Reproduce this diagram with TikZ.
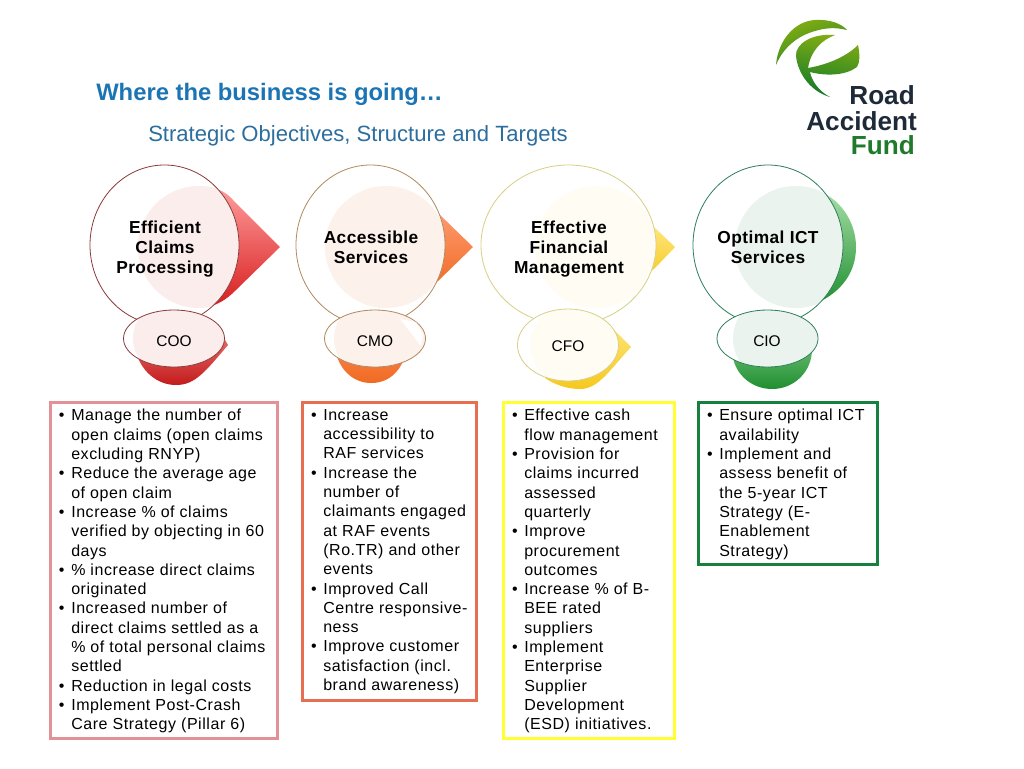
\documentclass[tikz,border=0pt]{standalone}
\usepackage{fontspec}
\setmainfont{Liberation Sans}
\newfontfamily\listfont[LetterSpace=3.5]{Liberation Sans}
\newfontfamily\headfont[LetterSpace=2.5]{Liberation Sans}
\usetikzlibrary{shapes.geometric}
\definecolor{titleblue}{HTML}{1B75B5}
\definecolor{subblue}{HTML}{2C6E9E}
\definecolor{logodark}{HTML}{1E2A38}
\definecolor{logogreen}{HTML}{1F7A2C}
\definecolor{logohi}{HTML}{86AE12}
\definecolor{logolo}{HTML}{0F7A2A}
\definecolor{edgeA}{HTML}{8B3A3A}\definecolor{paleA}{HTML}{FBEDEB}\definecolor{hiA}{HTML}{FF9C9C}\definecolor{loA}{HTML}{D81E1E}\definecolor{boxA}{HTML}{E49098}
\definecolor{edgeB}{HTML}{B08A60}\definecolor{paleB}{HTML}{FCF1EB}\definecolor{hiB}{HTML}{FF9E78}\definecolor{loB}{HTML}{F06A20}\definecolor{boxB}{HTML}{E86E52}
\definecolor{edgeC}{HTML}{D8CF85}\definecolor{paleC}{HTML}{FFFDF3}\definecolor{hiC}{HTML}{FFEC90}\definecolor{loC}{HTML}{F6C81E}\definecolor{boxC}{HTML}{FFFF33}
\definecolor{edgeD}{HTML}{2E7D5A}\definecolor{paleD}{HTML}{EAF3EE}\definecolor{hiD}{HTML}{A8E0A8}\definecolor{loD}{HTML}{1F8F30}\definecolor{boxD}{HTML}{17803E}
\newcommand{\blt}{\llap{•\hspace{5pt}}}
\newcommand{\ringset}[9]{%
\fill[white] (#2,245) ellipse [x radius=#3, y radius=80];
\begin{scope}
\clip (#2,245) ellipse [x radius=#3, y radius=80];
\fill[pale#1] (#4,247) ellipse [x radius=61, y radius=61];
\end{scope}
\draw[edge#1, line width=0.6pt] (#2,245) ellipse [x radius=#3, y radius=80];
\fill[white] (#5,#6) ellipse [x radius=50.5, y radius=#7];
\begin{scope}
\clip (#5,#6) ellipse [x radius=50.5, y radius=#7];
\fill[pale#1] (#8,#6) ellipse [x radius=#9, y radius=42];
\end{scope}
\draw[edge#1, line width=0.6pt] (#5,#6) ellipse [x radius=50.5, y radius=#7];
}
\tikzset{
  headtext/.style={font=\fontsize{13pt}{15pt}\selectfont\headfont\bfseries, align=center, text=black, inner sep=0pt},
  roletext/.style={font=\fontsize{11.6pt}{14pt}\selectfont, text=black, inner sep=0pt},
  listtext/.style={font=\fontsize{12pt}{14.48pt}\selectfont\listfont, align=left, anchor=north west, text=black, inner sep=0pt},
  listbox/.style={line width=2.25pt, fill=none},
}
\begin{document}
\begin{tikzpicture}[x=0.75pt,y=-0.75pt]
\useasboundingbox (0,0) rectangle (1024,768);
\fill[white] (0,0) rectangle (1024,768);

% logo
\shade[top color=logohi, bottom color=logolo!80!logohi, shading angle=20]
  (776,65) .. controls (778,40) and (795,21) .. (815,20) .. controls (830,19) and (842,24) .. (847,30)
  .. controls (835,27) and (825,28) .. (815,31) .. controls (797,36) and (783,48) .. (776,65) -- cycle;
\shade[top color=logohi, bottom color=logolo, shading angle=-10]
  (830,97) .. controls (812,92) and (798,75) .. (796,56) .. controls (795,44) and (812,33) .. (835,35)
  .. controls (822,40) and (811,50) .. (808,68) .. controls (825,65) and (845,58) .. (858,45)
  .. controls (860,55) and (860,62) .. (857,67) .. controls (845,76) and (825,76) .. (810,72)
  .. controls (812,82) and (820,92) .. (830,97) -- cycle;
\node[font=\fontsize{19.6pt}{20pt}\selectfont\bfseries, text=logodark, anchor=base east, inner sep=0pt] (logoa) at (915,104) {Road};
\node[font=\fontsize{19.6pt}{20pt}\selectfont\bfseries, text=logodark, anchor=base east, inner sep=0pt] (logob) at (917,130) {Accident};
\node[font=\fontsize{19.6pt}{20pt}\selectfont\bfseries, text=logogreen, anchor=base east, inner sep=0pt] (logoc) at (915,154) {Fund};

% titles
\node[font=\fontsize{17.85pt}{20pt}\selectfont\bfseries, text=titleblue, anchor=base west, inner sep=0pt] (title) at (96,100.5) {Where the business is going…};
\node[font=\fontsize{16.55pt}{18pt}\selectfont, text=subblue, anchor=base west, inner sep=0pt] (subtitle) at (148,141.5) {Strategic Objectives, Structure and Targets};

% --- arrows and drops
\shade[top color=hiA, bottom color=loA] (212,188) .. controls (222,190) and (228,194) .. (233,200) -- (280,247) -- (236,290) .. controls (228,298) and (222,302) .. (212,306) -- cycle;
\shade[top color=hiB, bottom color=loB] (425,205) -- (438,213) -- (473,247) -- (438,281) -- (425,290) -- cycle;
\shade[top color=hiC, bottom color=loC] (640,215) -- (655,228) -- (675,247) -- (655,268) -- (640,280) -- cycle;
\shade[top color=hiD, bottom color=loD] (815,190) .. controls (840,197) and (856,222) .. (856,247) .. controls (856,272) and (842,292) .. (815,304) -- cycle;

\shade[top color=hiA, bottom color=loA!90!black] (172,306) .. controls (148,306) and (135,325) .. (135,348) .. controls (140,372) and (158,385) .. (176,385) .. controls (195,385) and (205,372) .. (228,345) -- (224,338) .. controls (212,318) and (195,306) .. (172,306) -- cycle;
\shade[top color=hiB, bottom color=loB] (366,309) .. controls (345,310) and (335,325) .. (335,350) .. controls (340,372) and (355,383) .. (371,383) .. controls (390,383) and (402,370) .. (407,350) .. controls (405,325) and (390,309) .. (366,309) -- cycle;
\shade[top color=hiC, bottom color=loC] (570,307) .. controls (552,307) and (545,320) .. (545,345) -- (545,378) .. controls (555,385) and (568,389) .. (580,389) .. controls (598,389) and (608,372) .. (631,347) -- (612,328) .. controls (600,315) and (585,307) .. (570,307) -- cycle;
\shade[top color=hiD, bottom color=loD] (772,307) .. controls (748,307) and (732,325) .. (732,349) .. controls (732,372) and (750,389) .. (772,389) .. controls (794,389) and (812,372) .. (812,349) .. controls (812,325) and (796,307) .. (772,307) -- cycle;

% --- rings
\ringset{A}{164.5}{74.5}{199}{174}{338.5}{28.5}{181}{48}
\ringset{B}{370.5}{74.5}{386}{375}{338.5}{28.5}{382}{48}
\ringset{C}{568.5}{87.5}{596}{568}{345}{36}{578}{48}
\ringset{D}{768}{75}{796}{767.5}{338.5}{28.5}{775}{42}
\fill[white] (400,319) -- (416,322) -- (423,335) -- (421,346) -- cycle;

% --- ring text
\node[headtext] (h1) at (165,249) {Efficient\\Claims\\Processing};
\node[headtext] (h2) at (371,247) {Accessible\\Services};
\node[headtext] (h3) at (569,249) {Effective\\Financial\\Management};
\node[headtext] (h4) at (768,247) {Optimal ICT\\Services};
\node[roletext] (r1) at (174,341) {COO};
\node[roletext] (r2) at (375,341) {CMO};
\node[roletext] (r3) at (568,346) {CFO};
\node[roletext] (r4) at (767,341) {CIO};

% --- list boxes
\draw[listbox, boxA] (50.5,402.5) rectangle (277.5,738.5);
\draw[listbox, boxB] (302.5,402.5) rectangle (476.5,700.5);
\draw[listbox, boxC] (503.5,402.5) rectangle (674.5,738.5);
\draw[listbox, boxD] (698.5,402.5) rectangle (877.5,564.5);

\node[listtext] (l1) at (71,409) {\blt Manage the number of\\open claims (open claims\\excluding RNYP)\\\blt Reduce the average age\\of open claim\\\blt Increase \% of claims\\verified by objecting in 60\\days\\\blt \% increase direct claims\\originated\\\blt Increased number  of\\direct claims settled as a\\\% of total personal claims\\settled\\\blt Reduction in legal costs\\\blt Implement Post-Crash\\Care Strategy (Pillar 6)};
\node[listtext] (l2) at (323,409) {\blt Increase\\accessibility to\\RAF services\\\blt Increase the\\number of\\claimants engaged\\at RAF events\\(Ro.TR) and other\\events\\\blt Improved Call\\Centre responsive-\\ness\\\blt Improve customer\\satisfaction (incl.\\brand awareness)};
\node[listtext] (l3) at (524,409) {\blt Effective cash\\flow management\\\blt Provision for\\claims  incurred\\assessed\\quarterly\\\blt Improve\\procurement\\outcomes\\\blt Increase \% of B-\\BEE rated\\suppliers\\\blt Implement\\Enterprise\\Supplier\\Development\\(ESD) initiatives.};
\node[listtext] (l4) at (719,409) {\blt Ensure optimal ICT\\availability\\\blt Implement  and\\assess benefit of\\the 5-year ICT\\Strategy (E-\\Enablement\\Strategy)};
\end{tikzpicture}
\end{document}
